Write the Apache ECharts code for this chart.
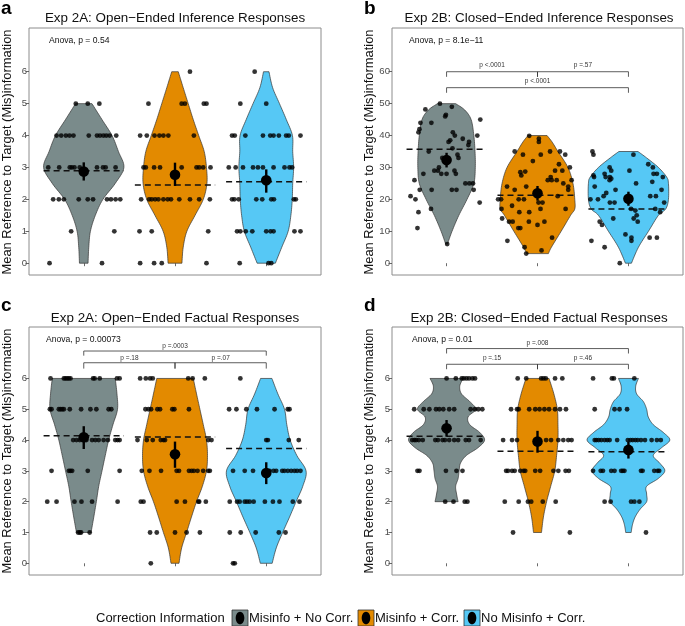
<!DOCTYPE html>
<html><head><meta charset="utf-8">
<script src="https://cdn.jsdelivr.net/npm/echarts@6/dist/echarts.min.js"></script>
<style>html,body{margin:0;padding:0;background:#fff}#c{width:685px;height:626px}</style>
</head><body><div id="c"></div>
<script>
// ---------- data ----------
const groupNames = ['Misinfo + No Corr.', 'Misinfo + Corr.', 'No Misinfo + Corr.'];
const groupColors = ['#7A8B8B', '#E38A00', '#56C8F5'];
const categoryPositions = [1, 2, 3];
const panelLetters = ['a', 'b', 'c', 'd'];
const panelTitles = [
  'Exp 2A: Open\u2212Ended Inference Responses',
  'Exp 2B: Closed\u2212Ended Inference Responses',
  'Exp 2A: Open\u2212Ended Factual Responses',
  'Exp 2B: Closed\u2212Ended Factual Responses'
];
const anovaLabels = ['Anova, p = 0.54', 'Anova, p = 8.1e\u221211', 'Anova, p = 0.00073', 'Anova, p = 0.01'];
const yAxisTitle = 'Mean Reference to Target (Mis)information';
const legendTitle = 'Correction Information';

const yTicksA = [0, 1, 2, 3, 4, 5, 6];
const yTicksB = [0, 10, 20, 30, 40, 50, 60];
const yTicksC = [0, 1, 2, 3, 4, 5, 6];
const yTicksD = [0, 1, 2, 3, 4, 5, 6];
const yRanges = [[-0.37, 7.37], [-3.7, 73.7], [-0.38, 7.67], [-0.38, 7.67]];

// jittered responses: rows of [value, [x positions]]
const aPts1 = [[5,[0.913,1.044,1.171]],[4,[0.702,0.753,0.804,0.844,0.887,1.055,1.145,1.178,1.215,1.247,1.284,1.356]],[3,[0.611,0.731,0.847,0.869,0.898,0.956,1.145,1.211,1.24,1.349]],[2,[0.665,0.727,0.782,0.945,1.044,1.102,1.255,1.298,1.349,1.4]],[1,[0.862,1.335]],[0,[0.625,1.2]]];
const aPts2 = [[6,[2.164]],[5,[1.709,2.073,2.109,2.316,2.345]],[4,[1.618,1.691,1.775,1.829,1.873,1.927,2.207]],[3,[1.655,1.68,1.771,1.836,2.073,2.236,2.265,2.309,2.389]],[2,[1.629,1.716,1.745,1.782,1.818,1.873,1.92,1.956,2.047,2.164,2.265,2.382]],[1,[1.611,1.745,2.364]],[0,[1.618,1.771,1.855,2.345]]];
const aPts3 = [[6,[2.873]],[5,[2.716,3.0]],[4,[2.625,2.655,2.771,2.964,3.044,3.08,3.138,3.218,3.247,3.375]],[3,[2.589,2.665,2.745,2.855,2.909,2.964,3.08,3.2,3.255,3.284]],[2,[2.625,2.651,2.698,2.891,2.956,3.055,3.084,3.302,3.324]],[1,[2.68,2.716,2.775,2.847,3.0,3.047,3.08,3.309,3.375]],[0,[2.709,3.025,3.055]]];

const bPts1 = [[0.767,48.2],[0.713,44],[0.702,42],[0.691,41],[0.833,44],[0.927,50],[0.985,46],[0.993,46.5],[1.058,49],[1.069,41],[1.091,40],[1.022,38],[1.04,38.5],[1.178,39],[1.247,38],[1.24,37],[1.338,40],[1.371,45],[0.804,35],[1.065,36],[1.12,34],[0.953,33],[0.745,28],[0.865,29],[0.905,29],[0.916,30],[0.942,28],[1.0,28],[1.087,29],[1.102,28],[1.131,33],[0.647,26],[0.705,23],[0.836,23],[1.058,23],[1.109,23],[1.207,25],[1.251,25],[1.291,25],[1.298,23],[0.604,21],[0.658,20],[0.691,16],[0.829,17],[1.364,19],[0.68,11],[1.007,6]];
const bPts2 = [[1.909,39.9],[2.015,39],[2.015,38],[1.749,35],[1.84,34],[1.949,32],[2.036,34],[2.236,31],[2.138,35],[2.247,35],[2.305,34],[2.193,29],[2.273,29],[2.356,30],[2.375,26],[2.113,26],[2.156,26],[2.211,26],[2.145,27],[1.811,28.5],[1.865,28.7],[1.822,27.5],[1.665,24],[1.749,23],[1.876,24],[2.284,25],[2.338,24],[2.338,23],[2.222,21],[1.567,20],[1.6,20],[1.793,20],[1.851,20],[2.055,19],[1.604,17],[1.72,18],[1.8,16],[1.909,16],[2.033,17],[2.011,19],[2.309,17],[1.611,14],[1.687,13],[1.727,13],[1.905,13],[2.076,13],[1.789,11],[1.811,11],[2.0,12],[1.669,7],[1.858,5],[2.16,8],[2.044,4],[1.876,3]];
const bPts3 = [[2.604,35],[2.615,34],[3.055,34],[3.218,31],[3.269,30],[2.793,30],[2.811,29],[3.011,29],[2.738,28],[2.615,27.5],[2.622,27],[2.749,27],[2.796,27],[2.793,26],[2.811,26.5],[3.276,28],[3.313,28],[3.378,27],[2.629,24],[2.756,22],[2.858,23],[3.262,25.5],[3.364,23],[3.084,25],[2.582,20],[2.665,20],[2.727,21],[2.796,19],[2.847,19],[3.24,21],[3.302,21],[3.393,19],[2.684,13],[2.709,12],[3.058,14],[3.102,13],[3.091,15],[3.076,16.5],[3.029,17],[2.833,14],[2.593,7],[2.738,5],[2.967,9],[3.033,8],[3.033,7],[3.233,8],[3.313,8],[2.905,0],[3.295,17],[3.349,16]];

const cPts1 = [[6,[0.636,0.782,0.8,0.818,0.836,0.855,1.102,1.12,1.175,1.364,1.393]],[5,[0.629,0.647,0.727,0.745,0.764,0.782,0.847,0.971,1.073,1.138,1.273,1.302]],[4,[0.884,0.92,0.956,1.029,1.091,1.127,1.164,1.218,1.265,1.345,1.371,1.393]],[3,[0.647,0.836,0.855,0.873,1.044,1.393]],[2,[0.6,0.702,0.898,0.975,1.091,1.371]],[1,[0.938,0.956,0.971,1.065]]];
const cPts2 = [[6,[1.618,1.68,1.727,1.756,2.145,2.193,2.327]],[5,[1.676,1.709,1.738,1.807,1.836,1.971,1.993,2.153]],[4,[1.589,1.691,1.756,1.844,1.873,1.891,2.364,2.4]],[3,[1.636,1.72,1.847,2.018,2.044,2.153,2.182,2.207,2.247,2.309,2.364,2.382]],[2,[1.625,1.655,2.018,2.109,2.255,2.265,2.338]],[1,[1.727,1.8,2.0,2.127,2.273]],[0,[1.735]]];
const cPts3 = [[6,[2.716]],[5,[2.593,2.673,2.782,2.898,3.091,3.236,3.255]],[4,[3.0,3.018,3.247,3.356]],[3,[2.636,2.764,2.855,3.036,3.08,3.109,3.175,3.2,3.236,3.273,3.309,3.338,3.375]],[2,[2.6,2.68,2.709,2.764,2.789,2.818,2.862,2.985,3.073,3.145,3.291,3.364]],[1,[2.6,2.72,2.884,3.138,3.211]],[0,[2.636,2.655]]];

const dPts1 = [[6,[1.0,1.102,1.167,1.189,1.218,1.247,1.284,1.313]],[5,[0.644,0.749,0.811,0.884,0.92,0.964,1.029,1.084,1.265,1.313,1.349,1.393]],[4,[0.622,0.647,0.665,0.695,0.738,0.876,0.905,0.956,0.982,1.029,1.084,1.127,1.211,1.247,1.375]],[3,[0.68,0.702,0.993,1.109,1.175]],[2,[0.985,1.076,1.2,1.229]]];
const dPts2 = [[6,[1.782,1.876,2.04,2.065,2.091,2.193,2.273]],[5,[1.709,1.775,1.793,1.909,1.975,2.022,2.076,2.127,2.193,2.247,2.313]],[4,[1.622,1.72,1.775,2.011,2.095,2.149,2.229,2.284,2.338,2.375]],[3,[1.655,1.676,1.72,1.749,1.811,1.847,1.865,1.975,2.029,2.175,2.229,2.309,2.345]],[2,[1.64,1.793,1.895,1.931,2.058,2.2]],[1,[1.731,2.356]]];
const dPts3 = [[6,[2.611,2.818,2.84,3.065]],[5,[2.629,2.847,2.902,2.985]],[4,[2.629,2.647,2.673,2.702,2.738,2.767,2.793,2.876,2.993,3.022,3.047,3.076,3.102,3.138,3.182,3.255,3.313,3.356]],[3,[2.611,2.695,2.72,2.811,2.847,2.92,2.938,2.956,3.138,3.156,3.284,3.32,3.338]],[2,[2.738,2.804,3.029,3.065,3.12]],[1,[3.193]]];

// violin density profiles: [value, half width (category units)]
const aViolin1 = [[0,0.047],[0.5,0.055],[1,0.073],[1.5,0.127],[2,0.21],[2.5,0.345],[3,0.44],[3.5,0.38],[4,0.31],[4.5,0.2],[5,0.09]];
const aViolin2 = [[0,0.076],[0.5,0.09],[1,0.13],[1.5,0.22],[2,0.31],[2.5,0.35],[3,0.345],[3.5,0.32],[4,0.26],[4.5,0.2],[5,0.145],[5.5,0.09],[6,0.036]];
const aViolin3 = [[0,0.1],[0.5,0.17],[1,0.24],[1.5,0.27],[2,0.285],[2.5,0.29],[3,0.3],[3.5,0.29],[4,0.287],[4.5,0.22],[5,0.145],[5.5,0.07],[6,0.03]];
const bViolin1 = [[6,0.01],[10,0.06],[15,0.135],[20,0.225],[25,0.3],[30,0.316],[35,0.313],[40,0.3],[45,0.27],[48,0.2],[50,0.1]];
const bViolin2 = [[3,0.12],[5,0.153],[10,0.26],[15,0.364],[17,0.41],[20,0.41],[25,0.39],[30,0.335],[35,0.225],[38,0.16],[40,0.105]];
const bViolin3 = [[0,0.033],[5,0.11],[10,0.22],[15,0.33],[17,0.41],[20,0.44],[25,0.44],[27,0.42],[30,0.33],[33,0.2],[35,0.105]];
const cViolin1 = [[1,0.08],[1.5,0.11],[2,0.138],[2.5,0.164],[3,0.2],[3.5,0.236],[4,0.273],[4.5,0.32],[5,0.37],[5.5,0.364],[6,0.345]];
const cViolin2 = [[0,0.044],[0.5,0.073],[1,0.127],[1.5,0.18],[2,0.236],[2.5,0.3],[3,0.345],[3.5,0.356],[4,0.345],[4.5,0.31],[5,0.273],[5.5,0.236],[6,0.2]];
const cViolin3 = [[0,0.065],[0.5,0.11],[1,0.18],[1.5,0.255],[2,0.327],[2.5,0.4],[3,0.436],[3.5,0.335],[4,0.262],[4.5,0.225],[5,0.2],[5.5,0.127],[6,0.062]];
const dViolin1 = [[2,0.127],[2.25,0.11],[2.5,0.1],[2.75,0.127],[3,0.138],[3.25,0.153],[3.5,0.218],[3.75,0.345],[4,0.418],[4.25,0.364],[4.5,0.255],[4.75,0.236],[5,0.32],[5.25,0.255],[5.5,0.164],[5.75,0.145],[6,0.182]];
const dViolin2 = [[1,0.044],[1.5,0.065],[2,0.1],[2.5,0.145],[3,0.19],[3.5,0.21],[4,0.225],[4.5,0.225],[5,0.218],[5.5,0.18],[6,0.127]];
const dViolin3 = [[1,0.03],[1.25,0.044],[1.5,0.073],[1.75,0.127],[2,0.2],[2.25,0.2],[2.5,0.2],[2.75,0.327],[3,0.4],[3.25,0.345],[3.5,0.273],[3.75,0.364],[4,0.455],[4.25,0.382],[4.5,0.273],[4.75,0.218],[5,0.2],[5.25,0.164],[5.5,0.09],[5.75,0.08],[6,0.11]];

// group means with error bars (mean, low, high)
const aMeans = [2.87, 2.77, 2.6];   const aLow = [2.59, 2.42, 2.21]; const aHigh = [3.16, 3.15, 2.94];
const bMeans = [32.3, 21.9, 20.2];  const bLow = [30, 19.6, 18];     const bHigh = [34.6, 24.2, 22.4];
const cMeans = [4.09, 3.54, 2.93];  const cLow = [3.71, 3.1, 2.57];  const cHigh = [4.45, 3.95, 3.28];
const dMeans = [4.38, 3.95, 3.68];  const dLow = [4.11, 3.59, 3.4];  const dHigh = [4.65, 4.3, 3.95];

// dashed reference lines
const aDashed = [2.9, 2.45, 2.55];
const bDashed = [35.7, 21.3, 17.0];
const cDashed = [4.14, 4.1, 3.73];
const dDashed = [4.12, 3.64, 3.62];

// pairwise comparison brackets
const aBrackets = [];
const bBrackets = [
  {from:1, to:2, y:60, tip:58.4, label:'p <.0001', ly:61.9},
  {from:2, to:3, y:60, tip:58.4, label:'p =.57', ly:61.9},
  {from:1, to:3, y:55, tip:53.4, label:'p <.0001', ly:56.9}
];
const cBrackets = [
  {from:1, to:3, y:6.89, tip:6.74, label:'p =.0003', ly:7.06},
  {from:1, to:2, y:6.51, tip:6.32, label:'p =.18', ly:6.67},
  {from:2, to:3, y:6.51, tip:6.32, label:'p =.07', ly:6.67}
];
const dBrackets = [
  {from:1, to:3, y:6.97, tip:6.81, label:'p =.008', ly:7.16},
  {from:1, to:2, y:6.46, tip:6.30, label:'p =.15', ly:6.65},
  {from:2, to:3, y:6.46, tip:6.30, label:'p =.46', ly:6.65}
];

// ---------- build ----------
const FONT = '"Liberation Sans", Arial, Helvetica, sans-serif';
const panels = [
  {pts:[aPts1,aPts2,aPts3], rows:true, violin:[aViolin1,aViolin2,aViolin3], means:aMeans, low:aLow, high:aHigh, dashed:aDashed, brackets:aBrackets, ticks:yTicksA},
  {pts:[bPts1,bPts2,bPts3], rows:false, violin:[bViolin1,bViolin2,bViolin3], means:bMeans, low:bLow, high:bHigh, dashed:bDashed, brackets:bBrackets, ticks:yTicksB},
  {pts:[cPts1,cPts2,cPts3], rows:true, violin:[cViolin1,cViolin2,cViolin3], means:cMeans, low:cLow, high:cHigh, dashed:cDashed, brackets:cBrackets, ticks:yTicksC},
  {pts:[dPts1,dPts2,dPts3], rows:true, violin:[dViolin1,dViolin2,dViolin3], means:dMeans, low:dLow, high:dHigh, dashed:dDashed, brackets:dBrackets, ticks:yTicksD}
];
const grids = [
  {left:29, top:28, width:292, height:247},
  {left:392, top:28, width:291, height:247},
  {left:29, top:327, width:292, height:248},
  {left:392, top:327, width:291, height:248}
];
function expandRows(rows){ const out=[]; rows.forEach(([y,xs])=>xs.forEach(x=>out.push([x,y]))); return out; }

// Catmull-Rom smoothing of a pixel polyline (drawing only)
function smoothLine(pts){
  const out = [];
  const n = pts.length;
  for (let i=0;i<n-1;i++){
    const p0 = pts[Math.max(0,i-1)], p1 = pts[i], p2 = pts[i+1], p3 = pts[Math.min(n-1,i+2)];
    const steps = 8;
    for (let s=0;s<steps;s++){
      const t = s/steps, t2=t*t, t3=t2*t;
      const f = k => 0.5*((2*p1[k]) + (-p0[k]+p2[k])*t + (2*p0[k]-5*p1[k]+4*p2[k]-p3[k])*t2 + (-p0[k]+3*p1[k]-3*p2[k]+p3[k])*t3);
      out.push([f(0), f(1)]);
    }
  }
  out.push(pts[n-1]);
  return out;
}

const series = [];
panels.forEach((p, i) => {
  const ax = {xAxisIndex:i, yAxisIndex:i};
  // violins
  series.push(Object.assign({
    type:'custom', silent:true, z:1,
    data: categoryPositions.map(c=>[c, 0]),
    renderItem: function(params, api){
      const g = params.dataIndex, cx = categoryPositions[g];
      const prof = p.violin[g];
      const right = smoothLine(prof.map(([y,w])=>api.coord([cx+w,y])));
      const left = smoothLine(prof.slice().reverse().map(([y,w])=>api.coord([cx-w,y])));
      return {type:'polygon', shape:{points:right.concat(left)},
        style:{fill:groupColors[g], stroke:'#333', lineWidth:0.7}};
    }
  }, ax));
  // dashed lines
  series.push(Object.assign({
    type:'custom', silent:true, z:2,
    data: p.dashed.map((v,g)=>[categoryPositions[g], v]),
    renderItem: function(params, api){
      const x = api.value(0), v = api.value(1);
      const a = api.coord([x-0.44, v]), b = api.coord([x+0.44, v]);
      return {type:'line', shape:{x1:a[0],y1:a[1],x2:b[0],y2:b[1]},
        style:{stroke:'#111', lineWidth:1.5, lineDash:[6,4]}};
    }
  }, ax));
  // points
  p.pts.forEach((pts, g) => {
    series.push(Object.assign({
      type:'scatter', name:groupNames[g], silent:true, z:3,
      symbol:'circle', symbolSize:4.8,
      itemStyle:{color:'#000'},
      data: p.rows ? expandRows(pts) : pts
    }, ax));
  });
  // means + error bars
  series.push(Object.assign({
    type:'custom', silent:true, z:4,
    data: p.means.map((m,g)=>[categoryPositions[g], m, p.low[g], p.high[g]]),
    renderItem: function(params, api){
      const x = api.value(0);
      const c = api.coord([x, api.value(1)]), lo = api.coord([x, api.value(2)]), hi = api.coord([x, api.value(3)]);
      return {type:'group', children:[
        {type:'line', shape:{x1:lo[0],y1:lo[1],x2:hi[0],y2:hi[1]}, style:{stroke:'#000', lineWidth:2.4}},
        {type:'circle', shape:{cx:c[0], cy:c[1], r:5.3}, style:{fill:'#000'}}
      ]};
    }
  }, ax));
  // brackets
  if (p.brackets.length) {
    series.push(Object.assign({
      type:'custom', silent:true, z:5,
      data: p.brackets.map(b=>[b.from, b.y]),
      renderItem: function(params, api){
        const b = p.brackets[params.dataIndex];
        const p1 = api.coord([b.from, b.tip]), p2 = api.coord([b.from, b.y]);
        const p3 = api.coord([b.to, b.y]), p4 = api.coord([b.to, b.tip]);
        const lp = api.coord([(b.from+b.to)/2, b.ly]);
        return {type:'group', children:[
          {type:'polyline', shape:{points:[p1,p2,p3,p4]}, style:{stroke:'#333', lineWidth:0.8, fill:null}},
          {type:'text', x:lp[0], y:lp[1], style:{text:b.label, fontSize:6.5, fontFamily:FONT, fill:'#333', textAlign:'center', textVerticalAlign:'middle'}}
        ]};
      }
    }, ax));
  }
});

const xAxes = grids.map((g,i)=>({
  gridIndex:i, type:'value', min:0.4, max:3.6,
  axisLine:{show:false},
  axisTick:{show:true, customValues:categoryPositions, length:3, lineStyle:{color:'#444', width:0.8}},
  axisLabel:{show:false},
  splitLine:{show:false}
}));
const yAxes = grids.map((g,i)=>({
  gridIndex:i, type:'value', min:yRanges[i][0], max:yRanges[i][1],
  axisLine:{show:false},
  axisTick:{show:true, customValues:panels[i].ticks, length:3.5, lineStyle:{color:'#444', width:0.8}},
  axisLabel:{show:true, customValues:panels[i].ticks, margin:2, fontSize:9.6, fontFamily:FONT, color:'#4D4D4D'},
  splitLine:{show:false}
}));

const graphic = [];
const titleCenters = [[175,18],[539,18],[175,318],[539,318]];
const letterPos = [[1,8.5],[364,8.5],[1,305.5],[364,305.5]];
const anovaPos = [[49,40.5],[409,40.5],[46,340],[412,340]];
const yTitlePos = [[7,152],[369,152],[7,451],[369,451]];
for (let i=0;i<4;i++){
  graphic.push({type:'text', x:titleCenters[i][0], y:titleCenters[i][1], silent:true,
    style:{text:panelTitles[i], fontSize:13.4, fontFamily:FONT, fill:'#111', textAlign:'center', textVerticalAlign:'middle'}});
  graphic.push({type:'text', x:letterPos[i][0], y:letterPos[i][1], silent:true,
    style:{text:panelLetters[i], fontSize:19, fontWeight:'bold', fontFamily:FONT, fill:'#000', textAlign:'left', textVerticalAlign:'middle'}});
  graphic.push({type:'text', x:anovaPos[i][0], y:anovaPos[i][1], silent:true,
    style:{text:anovaLabels[i], fontSize:8.6, fontFamily:FONT, fill:'#111', textAlign:'left', textVerticalAlign:'middle'}});
  graphic.push({type:'text', x:yTitlePos[i][0], y:yTitlePos[i][1], rotation:Math.PI/2, silent:true,
    style:{text:yAxisTitle, fontSize:12.9, fontFamily:FONT, fill:'#111', textAlign:'center', textVerticalAlign:'middle'}});
}
// legend
const legY = 618;
graphic.push({type:'text', x:96, y:legY, silent:true,
  style:{text:legendTitle, fontSize:13, fontFamily:FONT, fill:'#111', textAlign:'left', textVerticalAlign:'middle'}});
const keyX = [232, 358, 464];
groupNames.forEach((n,g)=>{
  graphic.push({type:'rect', x:keyX[g], y:legY-8, shape:{x:0,y:0,width:16,height:16}, silent:true,
    style:{fill:groupColors[g], stroke:'#333', lineWidth:0.8}});
  graphic.push({type:'ellipse', x:keyX[g]+8, y:legY, shape:{cx:0,cy:0,rx:4.3,ry:6.3}, silent:true,
    style:{fill:'#000'}});
  graphic.push({type:'text', x:keyX[g]+17, y:legY, silent:true,
    style:{text:n, fontSize:13, fontFamily:FONT, fill:'#111', textAlign:'left', textVerticalAlign:'middle'}});
});

const chart = echarts.init(document.getElementById('c'), null, {renderer:'canvas'});
chart.setOption({
  animation:false,
  backgroundColor:'#fff',
  grid: grids.map(g=>Object.assign({show:true, borderColor:'#8c8c8c', borderWidth:1, backgroundColor:'#fff'}, g)),
  xAxis: xAxes,
  yAxis: yAxes,
  series: series,
  graphic: graphic
});
</script></body></html>
